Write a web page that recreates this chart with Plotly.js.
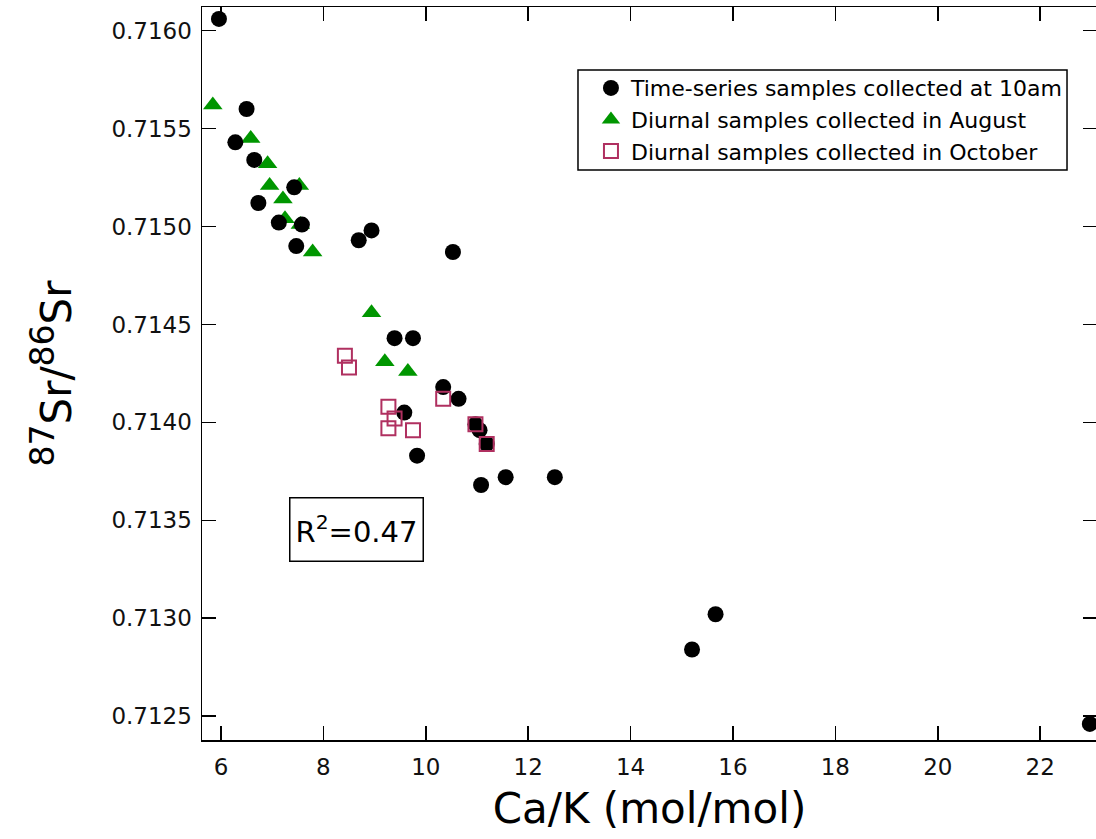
<!DOCTYPE html>
<html>
<head>
<meta charset="utf-8">
<script src="https://cdn.plot.ly/plotly-3.0.1.min.js"></script>
<style>
html, body { margin: 0; padding: 0; overflow: hidden; background: #fff; }
#chart { width: 1100px; height: 839px; }
</style>
</head>
<body>
<div id="chart"></div>
<script>
// Time-series samples collected at 10am
var tsX = [5.96, 6.50, 6.28, 6.65, 7.43, 6.73, 7.13, 7.58, 7.47, 8.69, 8.94, 10.53, 9.39, 9.75, 10.34, 10.64, 9.58, 10.97, 11.05, 11.19, 9.83, 11.08, 11.56, 12.52, 15.20, 15.66, 22.97];
var tsY = [0.71606, 0.71560, 0.71543, 0.71534, 0.71520, 0.71512, 0.71502, 0.71501, 0.71490, 0.71493, 0.71498, 0.71487, 0.71443, 0.71443, 0.71418, 0.71412, 0.71405, 0.71399, 0.71396, 0.71389, 0.71383, 0.71368, 0.71372, 0.71372, 0.71284, 0.71302, 0.71246];
// Diurnal samples collected in August
var augX = [5.84, 6.58, 6.91, 6.95, 7.53, 7.21, 7.25, 7.55, 7.79, 8.94, 9.20, 9.65];
var augY = [0.71562, 0.71545, 0.71532, 0.71521, 0.71521, 0.71514, 0.71504, 0.71501, 0.71487, 0.71456, 0.71431, 0.71426];
// Diurnal samples collected in October
var octX = [8.42, 8.50, 9.27, 9.39, 9.27, 9.75, 10.34, 10.97, 11.19];
var octY = [0.71434, 0.71428, 0.71408, 0.71402, 0.71397, 0.71396, 0.71412, 0.71399, 0.71389];

var names = ['Time-series samples collected at 10am', 'Diurnal samples collected in August', 'Diurnal samples collected in October'];
var xTicks = [6, 8, 10, 12, 14, 16, 18, 20, 22];
var yTicks = [0.7125, 0.7130, 0.7135, 0.7140, 0.7145, 0.7150, 0.7155, 0.7160];
var r2Label = 'R<sup>2</sup>=0.47';
var yTitle = '<sup><span style="font-size:33px">87</span></sup>Sr/<sup><span style="font-size:33px">86</span></sup>Sr';

var FONT = 'DejaVu Sans, Verdana, sans-serif';

var traces = [
  {
    x: augX, y: augY, name: names[1], type: 'scatter', mode: 'markers',
    legendgroup: 'b', legendrank: 2,
    marker: { symbol: 'triangle-up', size: 17, color: 'rgb(0,150,0)' }
  },
  {
    x: tsX, y: tsY, name: names[0], type: 'scatter', mode: 'markers',
    legendgroup: 'a', legendrank: 1,
    marker: { symbol: 'circle', size: 16, color: '#000' }
  },
  {
    x: octX, y: octY, name: names[2], type: 'scatter', mode: 'markers',
    legendgroup: 'c', legendrank: 3,
    marker: { symbol: 'square-open', size: 14, color: 'rgb(176,48,96)', line: { width: 2, color: 'rgb(176,48,96)' } }
  }
];

var axisCommon = {
  showgrid: false, zeroline: false,
  showline: true, linecolor: '#000', linewidth: 1.5,
  ticks: 'inside', ticklen: 14, tickwidth: 1.5, tickcolor: '#000',
  mirror: 'ticks',
  tickfont: { family: FONT, size: 23, color: '#111' }
};

var layout = {
  width: 1100, height: 839,
  paper_bgcolor: '#fff', plot_bgcolor: '#fff',
  margin: { l: 202, r: 3, t: 7, b: 99 },
  showlegend: true,
  legend: {
    x: 0.4346, y: 0.918, xanchor: 'left', yanchor: 'top',
    bgcolor: 'rgba(0,0,0,0)', borderwidth: 0,
    font: { family: FONT, size: 22, color: '#000' },
    tracegroupgap: 2, traceorder: 'normal'
  },
  shapes: [{
    type: 'rect', xref: 'paper', yref: 'paper',
    x0: 0.4201, x1: 0.9665, y0: 0.7776, y1: 0.9140,
    line: { color: '#000', width: 1.5 }, fillcolor: 'rgba(0,0,0,0)'
  }],
  xaxis: Object.assign({}, axisCommon, {
    range: [5.629, 23.11],
    tickvals: xTicks, ticktext: xTicks.map(String),
    ticklabelstandoff: 6,
    title: { text: 'Ca/K (mol/mol)', font: { family: FONT, size: 42, color: '#000' }, standoff: 14 }
  }),
  yaxis: Object.assign({}, axisCommon, {
    range: [0.712378, 0.716121],
    tickvals: yTicks, ticktext: yTicks.map(function (v) { return v.toFixed(4); }),
    ticklabelstandoff: 4,
    title: { text: yTitle, font: { family: FONT, size: 42, color: '#000' }, standoff: 26 }
  }),
  annotations: [{
    xref: 'x', yref: 'y', x: 8.64, y: 0.713455,
    text: r2Label, showarrow: false,
    font: { family: FONT, size: 29, color: '#000' },
    width: 128, height: 58,
    bordercolor: '#000', borderwidth: 1.5, borderpad: 2, bgcolor: '#fff'
  }]
};

Plotly.newPlot('chart', traces, layout, { displayModeBar: false, staticPlot: true });
</script>
</body>
</html>
